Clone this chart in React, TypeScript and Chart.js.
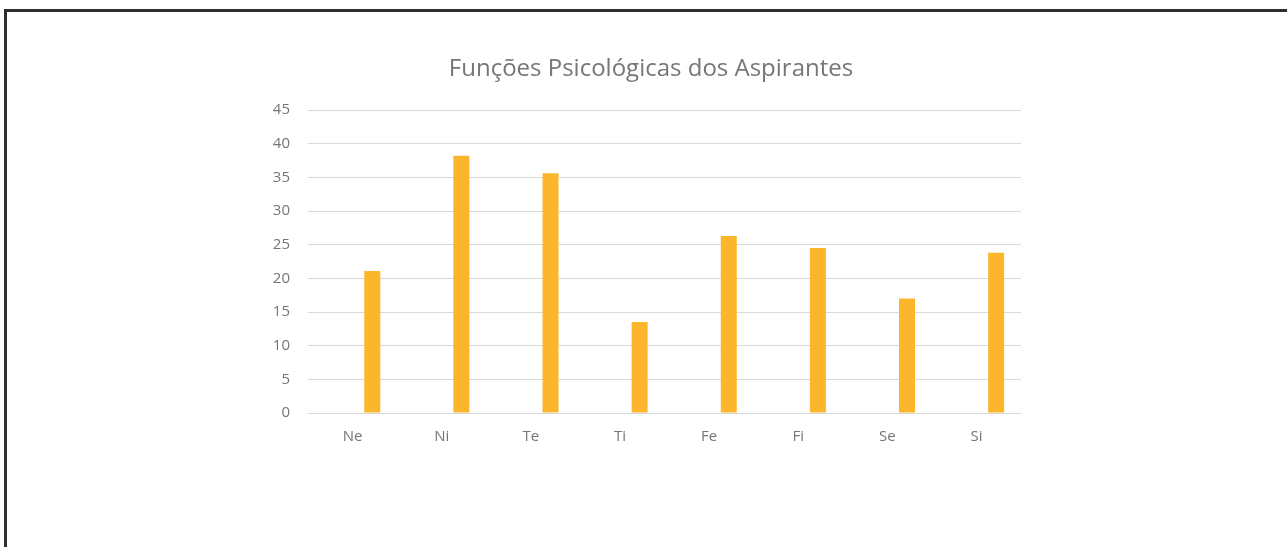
import React, { useEffect, useRef } from "react";
import { Chart, registerables } from "chart.js";

Chart.register(...registerables);

const categories = ["Ne", "Ni", "Te", "Ti", "Fe", "Fi", "Se", "Si"];
const emptySeries = [null, null, null, null, null, null, null, null];
const values = [21.1, 38.2, 35.6, 13.5, 26.3, 24.5, 17.0, 23.8];
const yTicks = [0, 5, 10, 15, 20, 25, 30, 35, 40, 45];
const titleText = "Funções Psicológicas dos Aspirantes";

const FONT = "'Open Sans', 'Noto Sans', sans-serif";
const TEXT = "#767676";

export default function App() {
  const ref = useRef<HTMLCanvasElement | null>(null);

  useEffect(() => {
    if (!ref.current) return;
    const chart = new Chart(ref.current, {
      type: "bar",
      data: {
        labels: categories,
        datasets: [
          {
            label: "",
            data: emptySeries as any,
            backgroundColor: "#FBB62B",
          },
          {
            label: "Aspirantes",
            data: values,
            backgroundColor: "#FBB62B",
            borderWidth: 0,
          },
        ],
      },
      options: {
        responsive: false,
        animation: false,
        layout: { padding: { left: 270, right: 255, top: 0, bottom: 0 } },
        datasets: {
          bar: { categoryPercentage: 0.884, barPercentage: 0.406 },
        },
        plugins: {
          legend: { display: false },
          tooltip: { enabled: false },
          title: {
            display: true,
            text: titleText,
            color: TEXT,
            font: { family: FONT, size: 24, weight: "normal" },
            padding: { top: 55, bottom: 26.2 },
          },
        },
        scales: {
          x: {
            grid: { display: false, drawTicks: false },
            border: { display: false },
            ticks: {
              color: TEXT,
              font: { family: FONT, size: 15 },
              padding: 15,
            },
            afterFit: (s: any) => {
              s.height = 134;
            },
          },
          y: {
            min: 0,
            max: 45,
            grid: { color: "#d9d9d9", lineWidth: 1, drawTicks: false },
            border: { display: false },
            afterBuildTicks: (s: any) => {
              s.ticks = yTicks.map((v) => ({ value: v }));
            },
            ticks: {
              color: TEXT,
              font: { family: FONT, size: 15 },
              padding: 18,
            },
            afterFit: (s: any) => {
              s.width = 38;
            },
          },
          y2: {
            position: "right",
            display: true,
            min: 0,
            max: 45,
            grid: { display: false, drawTicks: false },
            border: { display: false },
            ticks: { display: false },
            afterFit: (s: any) => {
              s.width = 11;
            },
          },
        },
      },
    });
    return () => chart.destroy();
  }, []);

  return (
    <div
      style={{
        position: "absolute",
        left: 0,
        top: 0,
        width: 1287,
        height: 547,
        overflow: "hidden",
        background: "#fff",
      }}
    >
      <canvas
        ref={ref}
        width={1287}
        height={547}
        style={{ position: "absolute", left: 0, top: 0, width: 1287, height: 547 }}
      />
      <div
        style={{
          position: "absolute",
          left: 4,
          top: 9,
          width: 1400,
          height: 700,
          borderLeft: "3px solid #2e2e2e",
          borderTop: "3px solid #2e2e2e",
          boxSizing: "border-box",
          pointerEvents: "none",
        }}
      />
    </div>
  );
}
